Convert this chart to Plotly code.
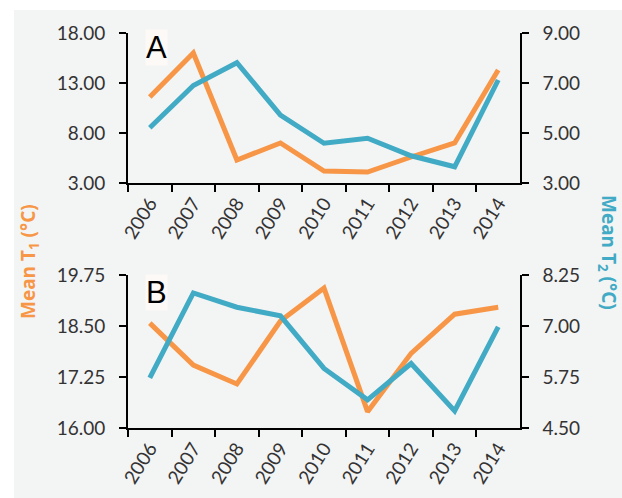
import plotly.graph_objects as go

# Years on the category axis
years = ["2006", "2007", "2008", "2009", "2010", "2011", "2012", "2013", "2014"]

# Panel A series
a_t1 = [11.6, 16.0, 5.3, 7.0, 4.2, 4.1, 5.6, 7.0, 14.3]
a_t2 = [5.21, 6.90, 7.81, 5.72, 4.59, 4.79, 4.09, 3.65, 7.12]

# Panel B series
b_t1 = [18.57, 17.54, 17.08, 18.62, 19.43, 16.40, 17.83, 18.79, 18.96]
b_t2 = [5.73, 7.81, 7.46, 7.25, 5.96, 5.19, 6.08, 4.92, 6.98]

# Axis ticks
a_left_ticks = [3, 8, 13, 18]
a_right_ticks = [3, 5, 7, 9]
b_left_ticks = [16.00, 17.25, 18.50, 19.75]
b_right_ticks = [4.50, 5.75, 7.00, 8.25]

ORANGE = "#f79646"
TEAL = "#41aac4"
BG = "#f3f4f4"
TXT = "#333333"
W, H = 622, 498

x0, x1 = 128 / W, 520 / W
a_dom = [1 - 183 / H, 1 - 33 / H]
b_dom = [1 - 428 / H, 1 - 275 / H]

fig = go.Figure()
line_kw = dict(mode="lines", line=dict(width=5), showlegend=False, hoverinfo="skip")
fig.add_trace(go.Scatter(x=years, y=a_t1, xaxis="x", yaxis="y", line_color=ORANGE, **line_kw))
fig.add_trace(go.Scatter(x=years, y=a_t2, xaxis="x", yaxis="y2", line_color=TEAL, **line_kw))
fig.add_trace(go.Scatter(x=years, y=b_t1, xaxis="x2", yaxis="y3", line_color=ORANGE, **line_kw))
fig.add_trace(go.Scatter(x=years, y=b_t2, xaxis="x2", yaxis="y4", line_color=TEAL, **line_kw))

tick_font = dict(family="Lato, Carlito, sans-serif", size=19, color=TXT)

def xax(anchor):
    return dict(domain=[x0, x1], anchor=anchor, type="category", range=[-0.5, 8.5],
                automargin=False,
                showline=True, linecolor="black", linewidth=1.6,
                ticks="outside", tickson="boundaries", ticklen=7, tickwidth=1.6,
                tickcolor="black", tickangle=-58, showgrid=False, zeroline=False,
                tickfont=dict(family="Lato, Carlito, sans-serif", size=19, color=TXT))

def yax(domain, rng, vals, side, anchor, overlay=None):
    d = dict(domain=domain, range=rng, tickvals=vals, ticktext=[f"{v:.2f}" for v in vals],
             side=side, anchor=anchor, automargin=False,
             showline=True, linecolor="black", linewidth=1.6,
             ticks="outside", ticklen=7, tickwidth=1.6, tickcolor="black",
             showgrid=False, zeroline=False, tickfont=tick_font, ticklabelstandoff=10)
    if overlay:
        d["overlaying"] = overlay
    return d

panel_font = dict(family="Liberation Sans, Arial", size=31, color="black")

fig.update_layout(
    width=W, height=H, autosize=False, margin=dict(l=0, r=0, t=0, b=0, pad=0),
    paper_bgcolor=BG, plot_bgcolor=BG,
    xaxis=xax("y"),
    xaxis2=xax("y3"),
    yaxis=yax(a_dom, [3, 18], a_left_ticks, "left", "x"),
    yaxis2=yax(a_dom, [3, 9], a_right_ticks, "right", "x", "y"),
    yaxis3=yax(b_dom, [16, 19.75], b_left_ticks, "left", "x2"),
    yaxis4=yax(b_dom, [4.5, 8.25], b_right_ticks, "right", "x2", "y3"),
    shapes=[
        dict(type="rect", xref="paper", yref="paper", x0=0, x1=14 / W, y0=0, y1=1,
             fillcolor="white", line_width=0, layer="above"),
        dict(type="rect", xref="paper", yref="paper", x0=0, x1=1, y0=1 - 10 / H, y1=1,
             fillcolor="white", line_width=0, layer="above"),
    ],
    annotations=[
        dict(text="A", xref="paper", yref="paper", x=157 / W, y=1 - 48 / H,
             xanchor="center", yanchor="middle", showarrow=False, font=panel_font,
             bgcolor="#fdf9f7", borderpad=0),
        dict(text="B", xref="paper", yref="paper", x=157 / W, y=1 - 292 / H,
             xanchor="center", yanchor="middle", showarrow=False, font=panel_font,
             bgcolor="#fdf9f7", borderpad=0),
        dict(text="<b>Mean T<sub>1</sub> (°C)</b>", xref="paper", yref="paper",
             x=29 / W, y=1 - 262 / H, xanchor="center", yanchor="middle",
             textangle=-90, showarrow=False,
             font=dict(family="Open Sans", size=19, color=ORANGE)),
        dict(text="<b>Mean T<sub>2</sub> (°C)</b>", xref="paper", yref="paper",
             x=608 / W, y=1 - 252 / H, xanchor="center", yanchor="middle",
             textangle=90, showarrow=False,
             font=dict(family="Open Sans", size=19, color=TEAL)),
    ],
)

fig.write_html("out.html")
